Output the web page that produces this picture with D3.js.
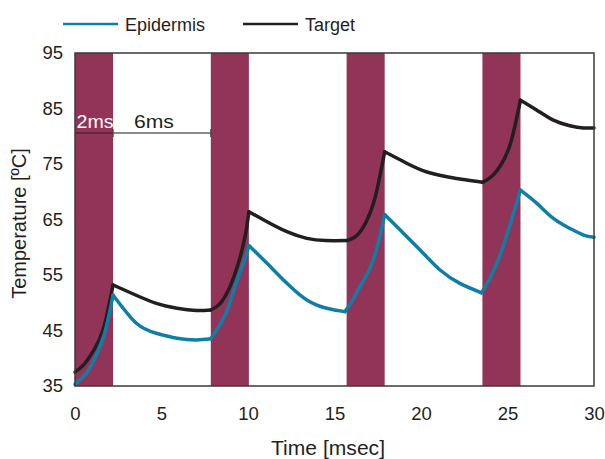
<!DOCTYPE html>
<html>
<head>
<meta charset="utf-8">
<script src="https://cdn.jsdelivr.net/npm/d3@7"></script>
<style>
  body { margin: 0; background: #fff; }
  text { font-family: "Liberation Sans", Arial, sans-serif; fill: #231f20; }
</style>
</head>
<body>
<div id="chart"></div>
<script>
// pulse windows (ms)
const pulseStart = [0, 7.85, 15.7, 23.55];
const pulseEnd = [2.2, 10.05, 17.9, 25.75];

// target curve, split at peaks / minima
const targetT = [
  [0, 0.55, 1.1, 1.65, 2.2],
  [2.2, 3.5, 4.7, 5.9, 7.0, 7.85],
  [7.85, 8.4, 8.96, 9.44, 9.83, 10.05],
  [10.05, 11.1, 12.25, 13.4, 14.5, 15.7],
  [15.7, 16.25, 16.8, 17.35, 17.9],
  [17.9, 19.2, 20.3, 21.5, 22.65, 23.55],
  [23.55, 24.1, 24.65, 25.2, 25.75],
  [25.75, 26.7, 27.65, 28.6, 29.4, 30]
];
const targetV = [
  [37.5, 39.0, 41.5, 45.4, 53.2],
  [53.2, 51.4, 49.9, 49.0, 48.6, 48.7],
  [48.7, 49.9, 52.9, 57.1, 61.9, 66.4],
  [66.4, 64.6, 62.8, 61.6, 61.2, 61.2],
  [61.2, 62.0, 64.4, 69.0, 77.2],
  [77.2, 75.1, 73.6, 72.7, 72.1, 71.7],
  [71.7, 72.8, 75.0, 79.0, 86.5],
  [86.5, 84.7, 82.9, 81.9, 81.5, 81.5]
];

// epidermis curve
const epiT = [
  [0, 0.45, 0.9, 1.65, 2.2],
  [2.2, 3.55, 4.7, 5.9, 7.0, 7.85],
  [7.85, 8.1, 8.67, 9.25, 9.83, 10.05],
  [10.05, 11.1, 12.25, 13.4, 14.55, 15.6],
  [15.6, 16.0, 16.47, 17.24, 17.9],
  [17.9, 18.8, 19.95, 21.1, 22.25, 23.5],
  [23.5, 24.0, 24.57, 25.14, 25.75],
  [25.75, 26.7, 27.65, 28.6, 29.4, 30]
];
const epiV = [
  [35.3, 36.6, 38.5, 43.9, 51.4],
  [51.4, 46.3, 44.5, 43.6, 43.3, 43.5],
  [43.5, 44.7, 47.7, 52.9, 58.0, 60.3],
  [60.3, 57.1, 53.5, 50.5, 49.0, 48.4],
  [48.4, 50.2, 52.9, 57.7, 65.9],
  [65.9, 63.1, 59.5, 55.9, 53.5, 51.8],
  [51.8, 54.5, 58.6, 64.0, 70.3],
  [70.3, 67.9, 65.2, 63.4, 62.2, 61.8]
];

const xTicks = [0, 5, 10, 15, 20, 25, 30];
const yTicks = [35, 45, 55, 65, 75, 85, 95];

const width = 605;
const height = 459;
const margin = {top: 53, right: 11, bottom: 73, left: 75};

const svg = d3.select('#chart').append('svg')
  .attr('width', width)
  .attr('height', height);

const x = d3.scaleLinear().domain([0, 30]).range([margin.left, width - margin.right]);
const y = d3.scaleLinear().domain([35, 95]).range([height - margin.bottom, margin.top]);

// pulse bars
svg.selectAll('.pulse')
  .data(pulseStart)
  .enter().append('rect')
  .attr('class', 'pulse')
  .attr('x', d => x(d))
  .attr('y', y(95))
  .attr('width', (d, i) => x(pulseEnd[i]) - x(d))
  .attr('height', y(35) - y(95))
  .style('fill', '#913457');

// 2ms / 6ms annotation
const annY = y(80.6);
svg.append('line')
  .attr('x1', x(0)).attr('x2', x(pulseEnd[0]))
  .attr('y1', annY).attr('y2', annY)
  .style('stroke', '#5a1f35').style('stroke-width', 1.5);
svg.append('line')
  .attr('x1', x(pulseEnd[0])).attr('x2', x(pulseStart[1]))
  .attr('y1', annY).attr('y2', annY)
  .style('stroke', '#666').style('stroke-width', 1.5);
[pulseEnd[0], pulseStart[1]].forEach(t => {
  svg.append('line')
    .attr('x1', x(t)).attr('x2', x(t))
    .attr('y1', annY - 4).attr('y2', annY + 4)
    .style('stroke', '#444').style('stroke-width', 1.2);
});
svg.append('text')
  .attr('x', (x(0) + x(pulseEnd[0])) / 2 + 1)
  .attr('y', annY - 5)
  .attr('text-anchor', 'middle')
  .style('font-size', '18px')
  .style('fill', '#fff')
  .attr('textLength', 37).attr('lengthAdjust', 'spacingAndGlyphs')
  .text('2ms');
svg.append('text')
  .attr('x', (x(pulseEnd[0]) + x(pulseStart[1])) / 2 - 8)
  .attr('y', annY - 5)
  .attr('text-anchor', 'middle')
  .style('font-size', '18px')
  .attr('textLength', 40).attr('lengthAdjust', 'spacingAndGlyphs')
  .text('6ms');

// curves
const line = d3.line()
  .x(d => x(d[0]))
  .y(d => y(d[1]))
  .curve(d3.curveNatural);

const drawSeries = (ts, vs, color) => {
  const segs = ts.map((seg, i) => seg.map((t, j) => [t, vs[i][j]]));
  svg.append('g')
    .selectAll('path')
    .data(segs)
    .enter().append('path')
    .attr('d', line)
    .style('fill', 'none')
    .style('stroke', color)
    .style('stroke-width', 3.5)
    .style('stroke-linejoin', 'round')
    .style('stroke-linecap', 'round');
};
drawSeries(targetT, targetV, '#231f20');
drawSeries(epiT, epiV, '#0f7ea6');

// frame
svg.append('rect')
  .attr('x', x(0)).attr('y', y(95))
  .attr('width', x(30) - x(0)).attr('height', y(35) - y(95))
  .style('fill', 'none')
  .style('stroke', '#3a3a3a')
  .style('stroke-width', 1.5);

// axes
const xAxis = svg.append('g')
  .attr('transform', `translate(0, ${y(35)})`)
  .call(d3.axisBottom(x).tickValues(xTicks).tickSize(0).tickPadding(21));
const yAxis = svg.append('g')
  .attr('transform', `translate(${x(0)}, 0)`)
  .call(d3.axisLeft(y).tickValues(yTicks).tickSize(0).tickPadding(12));
[xAxis, yAxis].forEach(a => {
  a.select('.domain').remove();
  a.selectAll('text')
    .style('font-size', '18.5px')
    .style('font-family', '"Liberation Sans", Arial, sans-serif')
    .style('fill', '#231f20');
});

svg.append('text')
  .attr('x', 328)
  .attr('y', 455)
  .attr('text-anchor', 'middle')
  .style('font-size', '20px')
  .attr('textLength', 114).attr('lengthAdjust', 'spacingAndGlyphs')
  .text('Time [msec]');

svg.append('text')
  .attr('transform', `translate(26, ${(y(35) + y(95)) / 2 + 4}) rotate(-90)`)
  .attr('text-anchor', 'middle')
  .style('font-size', '20px')
  .text('Temperature [ºC]');

// legend
const legend = [
  {name: 'Epidermis', color: '#0f7ea6', x: 63},
  {name: 'Target', color: '#231f20', x: 243}
];
const lg = svg.append('g').selectAll('g')
  .data(legend)
  .enter().append('g')
  .attr('transform', d => `translate(${d.x}, 24)`);
lg.append('line')
  .attr('x1', 0).attr('x2', 55)
  .style('stroke', d => d.color)
  .style('stroke-width', 2.5);
lg.append('text')
  .attr('x', 62)
  .attr('y', 7)
  .style('font-size', '18px')
  .text(d => d.name);
</script>
</body>
</html>
